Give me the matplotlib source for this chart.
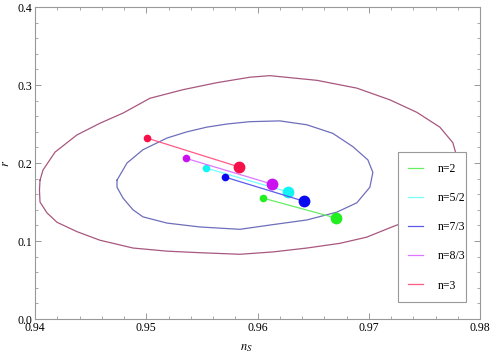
import matplotlib
matplotlib.use('Agg')
import matplotlib.pyplot as plt
import numpy as np
from matplotlib.ticker import MultipleLocator

## outer (2 sigma) contour
outer_ns = [0.94045, 0.94072, 0.94180, 0.94377, 0.94584, 0.94791, 0.95033, 0.95330,
            0.95635, 0.95932, 0.96111, 0.96534, 0.96893, 0.97190, 0.97432, 0.97639,
            0.97756, 0.97792, 0.97792, 0.97774, 0.97639, 0.97414, 0.97208, 0.96983,
            0.96740, 0.96444, 0.96138, 0.95842, 0.95482, 0.95186, 0.94881, 0.94584,
            0.94377, 0.94198, 0.94108, 0.94045, 0.94040, 0.94045]
outer_r = [0.178, 0.191, 0.214, 0.236, 0.251, 0.264, 0.283, 0.294,
           0.303, 0.310, 0.312, 0.306, 0.296, 0.281, 0.265, 0.246,
           0.226, 0.208, 0.197, 0.172, 0.146, 0.129, 0.118, 0.105,
           0.097, 0.091, 0.086, 0.083, 0.085, 0.087, 0.091, 0.101,
           0.112, 0.124, 0.136, 0.150, 0.165, 0.178]

## inner (1 sigma) contour
inner_ns = [0.94737, 0.94827, 0.94970, 0.95186, 0.95366, 0.95545, 0.95725, 0.95932,
            0.96201, 0.96444, 0.96677, 0.96857, 0.96992, 0.97037, 0.97010, 0.96893,
            0.96713, 0.96444, 0.96138, 0.95842, 0.95482, 0.95186, 0.94970, 0.94881,
            0.94791, 0.94737, 0.94737]
inner_r = [0.178, 0.200, 0.217, 0.232, 0.240, 0.246, 0.250, 0.253,
           0.254, 0.249, 0.238, 0.221, 0.204, 0.188, 0.169, 0.149,
           0.137, 0.127, 0.121, 0.115, 0.118, 0.123, 0.131, 0.140,
           0.155, 0.169, 0.178]

## model predictions: small dot = start, big dot = end
labels = ['n=2', 'n=5/2', 'n=7/3', 'n=8/3', 'n=3']
ns_start = [0.96049, 0.95536, 0.95707, 0.95357, 0.95006]
r_start = [0.155, 0.1936, 0.182, 0.206, 0.232]
ns_end = [0.96704, 0.96273, 0.96417, 0.96129, 0.95833]
r_end = [0.1295, 0.163, 0.151, 0.173, 0.195]

xticks = [0.94, 0.95, 0.96, 0.97, 0.98]
xticklabels = ['0.94', '0.95', '0.96', '0.97', '0.98']
yticks = [0.0, 0.1, 0.2, 0.3, 0.4]
yticklabels = ['0.0', '0.1', '0.2', '0.3', '0.4']

line_colors = ['#66ee66', '#77ffff', '#5a5aee', '#dd77ff', '#ff5a85']
dot_colors = ['#22ee22', '#11f5f5', '#0a0af0', '#cc11f0', '#f5104a']

plt.rcParams['font.family'] = 'Liberation Serif'
plt.rcParams['mathtext.fontset'] = 'stix'

fig = plt.figure(figsize=(4.91, 3.56), dpi=100)
ax = fig.add_axes([0.0713, 0.1039, 0.9063, 0.8764])

ax.plot(outer_ns, outer_r, color='#a8577f', lw=0.9)
ax.plot(inner_ns, inner_r, color='#6e6ebb', lw=0.9)

for i in range(5):
    ax.plot([ns_start[i], ns_end[i]], [r_start[i], r_end[i]],
            color=line_colors[i], lw=0.9, label=labels[i])
    ax.plot(ns_start[i], r_start[i], 'o', color=dot_colors[i], ms=5.5, mec='none')
    ax.plot(ns_end[i], r_end[i], 'o', color=dot_colors[i], ms=8.5, mec='none')

ax.set_xlim(0.94, 0.98)
ax.set_ylim(0.0, 0.4)
ax.set_xticks(xticks)
ax.set_xticklabels(xticklabels)
ax.set_yticks(yticks)
ax.set_yticklabels(yticklabels)
ax.xaxis.set_minor_locator(MultipleLocator(0.002))
ax.yaxis.set_minor_locator(MultipleLocator(0.02))

ax.tick_params(which='both', direction='in', top=True, right=True,
               color='#999999', labelsize=8.5, pad=2)
ax.tick_params(which='major', length=4, width=0.7)
ax.tick_params(which='minor', length=2.5, width=0.6)
for s in ax.spines.values():
    s.set_color('#999999')
    s.set_linewidth(0.8)

ax.set_xlabel(r'$n_S$', fontsize=9)
ax.set_ylabel(r'$r$', fontsize=9, rotation=90)
ax.xaxis.set_label_coords(0.476, -0.075)
ax.yaxis.set_label_coords(-0.052, 0.5)

leg = ax.legend(loc='lower left', bbox_to_anchor=(0.802, 0.035, 0.18, 0.455),
                mode='expand', fontsize=8.5, labelspacing=1.45,
                handlelength=1.2, handletextpad=1.3, borderpad=0.9,
                fancybox=False, framealpha=1, edgecolor='#999999')
leg.get_frame().set_linewidth(0.8)

plt.savefig('out.png', dpi=100)
